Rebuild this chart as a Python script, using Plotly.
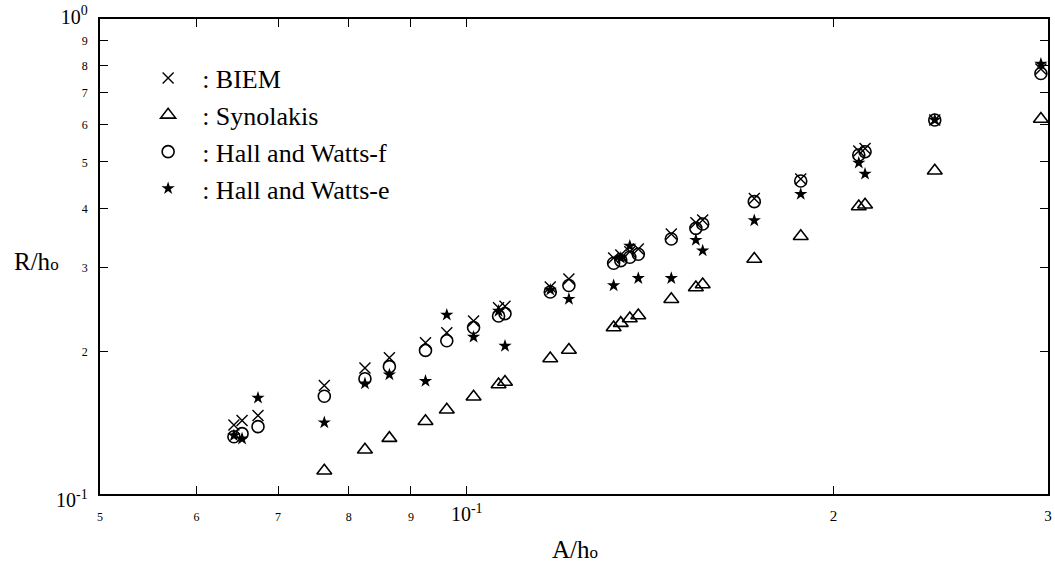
import plotly.graph_objects as go

# A/h0 values (experiments)
a_h = [0.0644, 0.0654, 0.0674, 0.0764, 0.0825, 0.0864, 0.0925, 0.0963, 0.1013,
       0.1062, 0.1075, 0.1171, 0.1213, 0.1320, 0.1338, 0.1361, 0.1383, 0.1472,
       0.1542, 0.1562, 0.1722, 0.1880, 0.2098, 0.2123, 0.2422, 0.2960]

biem = [0.1397, 0.1428, 0.1463, 0.1693, 0.1842, 0.1935, 0.2081, 0.2184, 0.2313,
        0.2466, 0.2485, 0.2728, 0.2836, 0.3140, 0.3186, 0.3237, 0.3280, 0.3527,
        0.3725, 0.3774, 0.4189, 0.4605, 0.5274, 0.5339, 0.6130, 0.7846]

synolakis = [None, None, None, 0.1119, 0.1239, 0.1311, 0.1423, 0.1504, 0.1602,
             0.1700, 0.1721, 0.1928, 0.2010, 0.2242, 0.2289, 0.2342, 0.2376, 0.2571,
             0.2721, 0.2761, 0.3125, 0.3489, 0.4030, 0.4063, 0.4792, 0.6159]

hw_f = [0.1320, 0.1340, 0.1386, 0.1606, 0.1748, 0.1854, 0.2006, 0.2102, 0.2242,
        0.2370, 0.2397, 0.2663, 0.2748, 0.3060, 0.3099, 0.3151, 0.3197, 0.3442,
        0.3625, 0.3702, 0.4125, 0.4561, 0.5173, 0.5256, 0.6130, 0.7677]

hw_e = [0.1328, 0.1307, 0.1593, 0.1414, 0.1708, 0.1783, 0.1729, 0.2382, 0.2141,
        0.2428, 0.2049, 0.2689, 0.2573, 0.2748, 0.3140, 0.3328, 0.2846, 0.2846,
        0.3425, 0.3253, 0.3765, 0.4278, 0.4977, 0.4718, 0.6130, 0.8039]

series_names = [": BIEM", ": Synolakis", ": Hall and Watts-f", ": Hall and Watts-e"]

x_tickvals = [0.05, 0.06, 0.07, 0.08, 0.09, 0.1, 0.2, 0.3]
x_ticktext = ["5", "6", "7", "8", "9", "10<sup>-1</sup>", "2", "3"]
y_tickvals = [0.1, 0.2, 0.3, 0.4, 0.5, 0.6, 0.7, 0.8, 0.9, 1.0]
y_ticktext = ["10<sup>-1</sup>", "2", "3", "4", "5", "6", "7", "8", "9", "10<sup>0</sup>"]

SERIF = "Liberation Serif, Times New Roman, serif"

x_text = []
for t in x_ticktext:
    if t.startswith("10"):
        x_text.append(f"<span style='font-size:20px'>{t}</span>")
    elif t in ("2", "3"):
        x_text.append(f"<span style='font-size:15px'>{t}</span>")
    else:
        x_text.append(f"<span style='font-size:12px'>{t}</span>")

y_text = []
for i, t in enumerate(y_ticktext):
    if t.startswith("10"):
        s = f"<span style='font-size:20px'>{t}</span>"
        if i == 0:
            s = "<span style='font-size:20px'> </span><br>" + s
        y_text.append(s)
    else:
        y_text.append(f"<span style='font-size:12px'>{t}</span>")

fig = go.Figure()
fig.add_trace(go.Scatter(x=a_h, y=biem, mode="markers", name=series_names[0],
                         marker=dict(symbol="x-thin-open", size=11, color="black",
                                     line=dict(width=1.4, color="black"))))
fig.add_trace(go.Scatter(x=a_h, y=synolakis, mode="markers", name=series_names[1],
                         marker=dict(symbol="triangle-up-open", size=13, color="black",
                                     line=dict(width=1.6, color="black"))))
fig.add_trace(go.Scatter(x=a_h, y=hw_f, mode="markers", name=series_names[2],
                         marker=dict(symbol="circle-open", size=12, color="black",
                                     line=dict(width=1.6, color="black"))))
fig.add_trace(go.Scatter(x=a_h, y=hw_e, mode="markers", name=series_names[3],
                         marker=dict(symbol="star", size=10, color="black",
                                     line=dict(width=0, color="black"))))

axis_common = dict(type="log", showline=True, linecolor="black", linewidth=1.5,
                   mirror="ticks", ticks="inside", ticklen=8, tickwidth=1.3,
                   tickcolor="black", showgrid=False, zeroline=False,
                   tickfont=dict(family=SERIF, size=13, color="black"))

fig.update_xaxes(range=[-1.30103, -0.522879], tickmode="array",
                 tickvals=x_tickvals, ticktext=x_text, ticklabelstandoff=10,
                 **axis_common)
fig.update_yaxes(range=[-1, 0], tickmode="array",
                 tickvals=y_tickvals, ticktext=y_text, ticklabelstandoff=8,
                 **axis_common)

fig.add_annotation(text="R/h<span style='font-size:17px'>o</span>", xref="paper", yref="paper",
                   x=-0.093, y=0.49, xanchor="left", yanchor="middle", showarrow=False,
                   font=dict(family=SERIF, size=25, color="black"))
fig.add_annotation(text="A/h<span style='font-size:17px'>o</span>", xref="paper", yref="paper",
                   x=0.501, y=-0.116, xanchor="center", yanchor="middle", showarrow=False,
                   font=dict(family=SERIF, size=25, color="black"))

fig.update_layout(
    width=1055, height=567,
    margin=dict(l=100, r=3, t=19, b=73),
    paper_bgcolor="white", plot_bgcolor="white",
    font=dict(family=SERIF, color="black"),
    legend=dict(x=0.036, y=0.925, xanchor="left", yanchor="top",
                bgcolor="rgba(0,0,0,0)", borderwidth=0,
                font=dict(family=SERIF, size=26, color="black"),
                tracegroupgap=0, itemwidth=58),
    showlegend=True,
)

fig.write_html("out.html")
